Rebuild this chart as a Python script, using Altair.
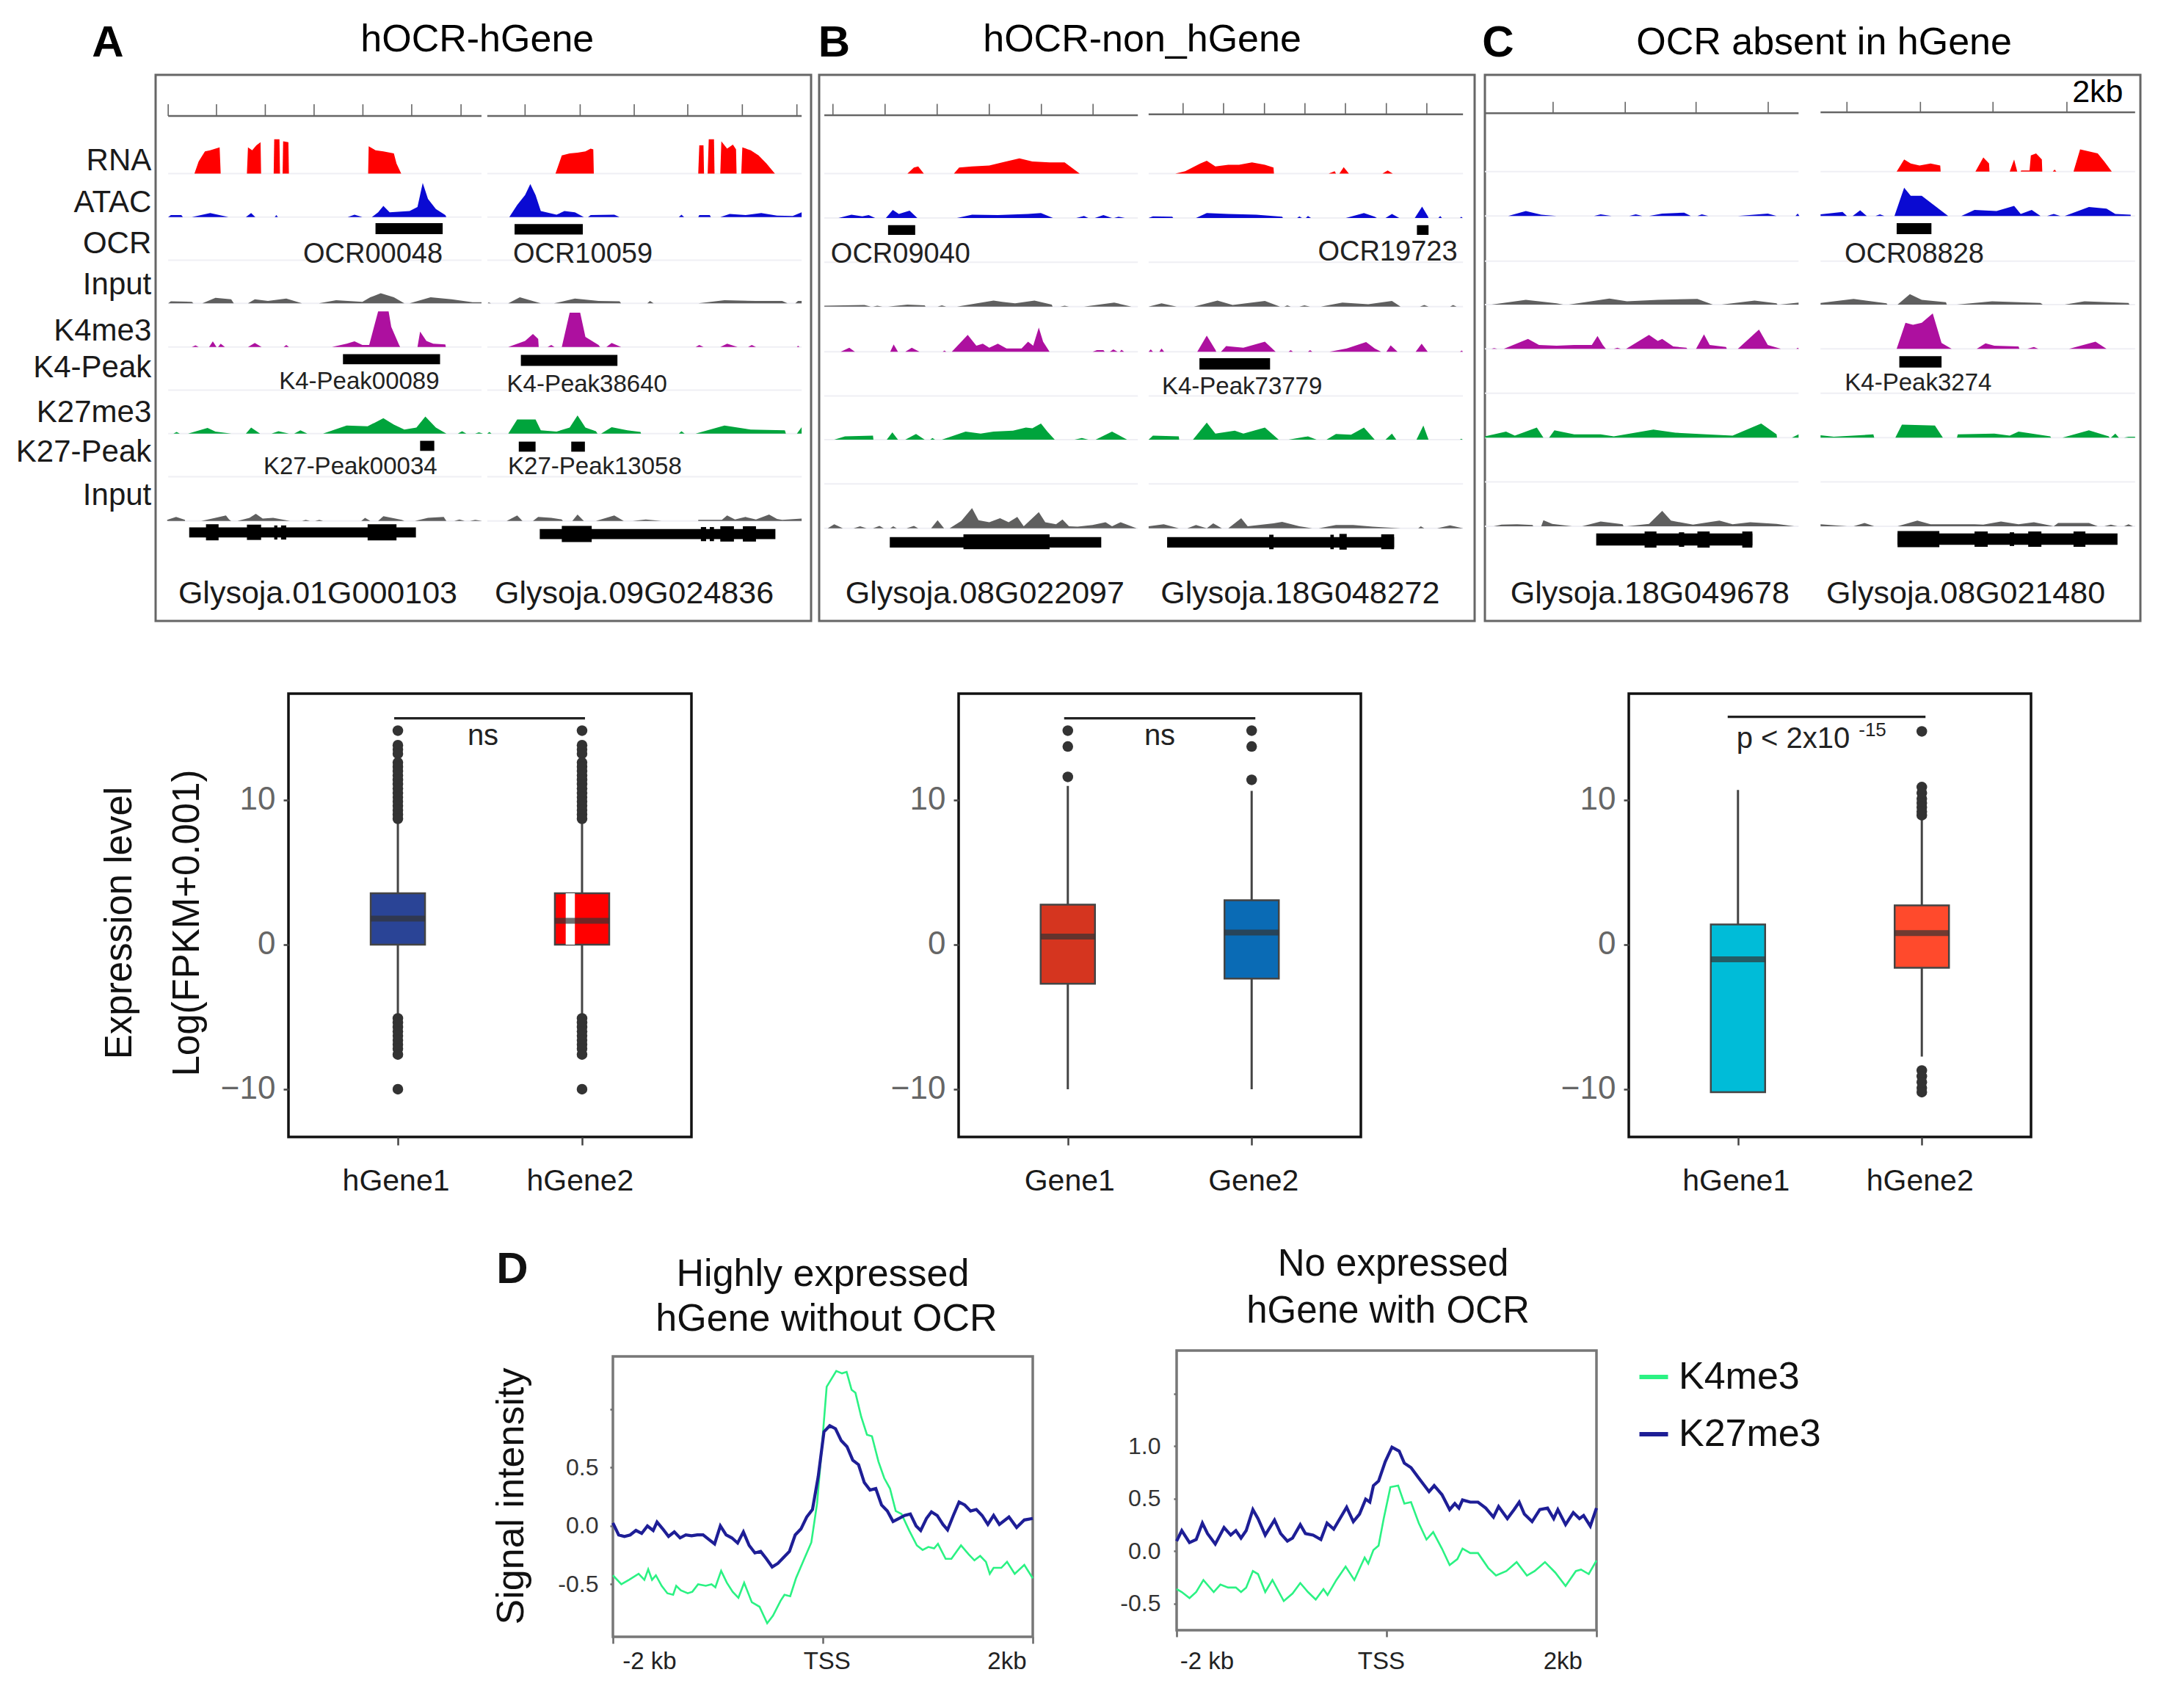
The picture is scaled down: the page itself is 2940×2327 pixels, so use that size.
import altair as alt
import pandas as pd

FONT = "Liberation Sans"
# ---------- genome browser panels: positions along the browser window, signal heights
TRACK_COLORS = {"RNA": "#FF0000", "ATAC": "#0A0AD2", "IN1": "#5F5F5F", "K4": "#AD109F", "K27": "#00A43C", "IN2": "#5F5F5F"}

A_BASE = {"RNA": 430, "ATAC": 538, "OCR": 645, "IN1": 752, "K4": 860, "K4P": 967, "K27": 1075, "K27P": 1182, "IN2": 1292}
B_BASE = {"RNA": 430, "ATAC": 540, "OCR": 650, "IN1": 760, "K4": 872, "K4P": 982, "K27": 1090, "K27P": 1200, "IN2": 1310}
C_BASE = {"RNA": 425, "ATAC": 535, "OCR": 647, "IN1": 755, "K4": 865, "K4P": 975, "K27": 1085, "K27P": 1195, "IN2": 1305}

A_SPANS = [[320, 917], [928, 1527]]
B_SPANS = [[37, 765], [790, 1520]]
C_SPANS = [[37, 750], [800, 1515]]

A_TRACKS = {
 "RNA": [[370,0,378,30,390,55,400,58,410,62,418,65,420,0],[470,0,472,65,480,58,488,70,496,78,497,0],[521,0,522,85,532,85,533,0],[538,0,539,80,549,78,550,0],[701,0,702,68,715,58,730,55,750,50,755,25,764,0],
         [1058,0,1070,45,1085,50,1100,52,1115,55,1125,62,1130,60,1131,0],[1330,0,1332,70,1340,70,1341,0],[1348,0,1350,85,1360,85,1361,0],[1372,0,1374,80,1385,62,1396,72,1402,60,1403,0],[1412,0,1414,65,1430,58,1445,45,1460,25,1476,0]],
 "ATAC": [[320,0,325,5,345,5,348,0],[365,0,400,10,435,0],[468,0,478,10,486,0],[523,0,526,5,529,0],[662,0,675,6,690,0],[708,0,720,12,730,28,742,12,780,15,795,25,805,85,815,45,830,20,848,5,850,0],
          [970,0,985,30,1000,55,1010,82,1020,55,1030,15,1060,6,1075,15,1095,12,1112,0],[1120,0,1125,5,1170,6,1180,0],[1293,0,1298,6,1303,0],[1330,0,1332,5,1352,5,1354,0],[1372,0,1390,8,1420,5,1450,10,1480,4,1510,3,1527,12]],
 "IN1": [[320,0,325,5,365,4,368,0],[385,0,410,14,440,10,445,0],[472,0,485,10,510,6,545,12,575,0],[607,0,640,8,690,4,705,15,725,25,750,15,770,0],[780,0,820,15,860,10,900,3,917,3],
         [930,3,935,0],[968,0,990,15,1030,0],[1055,0,1095,12,1140,6,1180,5,1183,0],[1233,0,1238,6,1245,0],[1330,0,1380,8,1440,6,1490,6,1500,0],[1515,0,1520,6,1527,6]],
 "K4": [[365,0,372,4,378,0],[398,0,405,14,412,0],[415,0,420,8,428,0],[472,0,485,10,498,0],[540,0,545,5,550,0],[632,0,660,8,675,14,690,5,703,5,720,88,740,88,745,50,760,5,762,0],[795,0,800,38,812,15,825,8,848,6,849,0],
        [968,0,1000,15,1015,32,1025,20,1026,0],[1043,0,1050,5,1056,0],[1070,0,1085,85,1105,85,1115,25,1140,5,1143,0],[1155,0,1165,10,1183,0],[1325,0,1332,5,1340,0],[1372,0,1385,8,1405,0],[1425,0,1432,5,1440,0],[1518,0,1520,3,1523,0]],
 "K27": [[330,0,336,4,342,0],[358,0,395,14,410,5,440,0],[468,0,478,15,495,0],[517,0,530,6,550,0],[560,0,572,8,585,0],[615,0,660,20,700,18,730,38,750,22,770,10,793,15,810,42,830,15,850,0],[872,0,880,6,888,0],[905,0,912,3,920,0],
         [928,0,932,4,936,0],[968,0,985,35,1020,35,1030,8,1060,5,1085,15,1100,45,1115,15,1135,6,1138,0],[1145,0,1165,16,1195,8,1220,4,1221,0],[1293,0,1298,6,1304,0],[1325,0,1380,20,1430,10,1495,8,1497,0],[1518,0,1527,16]],
 "IN2": [[318,3,335,10,352,3],[383,0,410,8,430,14,436,4,440,0],[452,0,475,8,487,18,500,6,520,8,552,0],[575,0,582,3,590,0],[600,0,608,3,615,0],[688,0,695,8,705,0],[720,0,730,12,765,3,770,0],[790,0,815,8,845,10,850,0],[865,0,875,4,885,0],[895,0,905,3,918,0],
         [965,0,985,14,995,0],[1015,0,1025,10,1050,8,1070,4,1072,0],[1090,0,1100,16,1112,0],[1135,0,1170,14,1188,0],[1205,0,1230,4,1260,0],[1330,3,1375,3,1385,14,1400,4,1420,10,1440,4,1465,16,1480,5,1490,3,1527,6]],
}
B_TRACKS = {
 "RNA": [[230,0,245,15,255,18,268,0],[338,0,350,15,380,18,420,20,450,28,490,38,520,30,560,28,595,28,630,0],
         [852,0,875,6,910,25,925,32,945,18,975,22,1000,22,1030,28,1060,22,1080,15,1081,0],[1208,0,1222,6,1225,0],[1233,0,1243,16,1255,0],[1333,0,1345,8,1357,0]],
 "ATAC": [[70,0,100,8,125,4,140,7,155,0],[180,0,196,20,210,10,235,18,253,0],[345,0,380,8,440,7,510,10,540,12,568,0],[622,0,640,5,650,0],[665,0,685,7,705,0],[710,0,720,3,735,0],
          [790,0,800,4,845,3,847,0],[900,0,925,12,975,10,1040,8,1100,3,1102,0],[1135,0,1140,4,1146,0],[1155,0,1160,5,1167,0],[1248,0,1290,12,1315,3,1320,0],[1340,0,1355,10,1372,0],[1408,0,1425,28,1438,5,1440,0],[1463,0,1467,5,1471,0],[1513,0,1516,3,1519,0]],
 "IN1": [[37,2,130,4,145,0],[150,0,160,2,172,0],[185,0,230,5,270,3,272,0],[300,0,310,3,320,0],[345,0,430,15,450,12,480,8,525,15,565,5,567,0],[585,0,595,2,605,0],[640,0,710,10,750,0],
         [790,0,820,8,855,0],[895,0,950,15,985,4,1060,14,1095,0],[1105,0,1112,3,1120,0],[1140,0,1152,3,1165,0],[1190,0,1240,10,1300,6,1355,14,1375,0],[1420,0,1430,4,1440,0],[1490,0,1497,4,1505,0]],
 "K4": [[75,0,95,10,108,0],[190,0,198,18,208,0],[225,0,240,10,258,0],[312,0,316,3,320,0],[333,0,370,42,390,15,405,20,420,10,440,20,460,8,495,8,510,25,522,15,535,60,545,25,560,0],[660,0,670,4,685,4,688,0],[700,0,708,6,718,0],[723,0,727,5,733,0],
        [790,0,795,6,800,0],[815,0,820,8,826,0],[903,0,925,40,945,5,947,0],[958,0,970,14,1010,10,1060,25,1085,0],[1115,0,1120,4,1125,0],[1160,0,1165,4,1170,0],[1210,0,1250,8,1295,24,1315,8,1330,0],[1342,0,1352,16,1368,0],[1410,0,1424,20,1438,0],[1513,0,1517,3,1520,0]],
 "K27": [[60,0,85,8,150,10,151,0],[182,0,195,18,208,0],[225,0,250,14,270,0],[283,0,288,4,294,0],[310,0,365,20,400,15,430,20,475,22,505,30,520,28,540,40,555,20,572,0],[618,0,635,4,650,0],[667,0,705,20,740,0],
         [790,0,800,10,860,8,861,0],[893,0,925,42,945,15,990,22,1010,15,1060,30,1092,0],[1115,0,1160,8,1180,0],[1203,0,1225,14,1260,12,1290,30,1315,0],[1340,0,1355,15,1365,0],[1412,0,1428,35,1440,0],[1513,0,1516,2,1519,0]],
 "IN2": [[45,0,60,10,80,0],[105,0,120,5,135,0],[150,0,165,6,175,0],[190,0,197,5,205,0],[228,0,245,6,255,0],[285,0,300,20,315,0],[328,0,355,18,380,50,395,20,420,15,445,25,465,15,485,28,500,5,515,20,535,40,550,15,575,10,590,22,605,5,625,4,660,8,690,15,705,5,725,15,762,0],
         [790,5,825,10,860,0],[880,0,900,8,925,0,940,12,960,0],[975,0,1005,25,1020,5,1080,12,1100,16,1140,5,1170,0],[1185,0,1225,8,1265,8,1310,4,1375,0],[1416,0,1422,5,1430,0],[1460,0,1490,7,1520,0]],
}
C_TRACKS = {
 "RNA": [[973,0,990,30,1005,20,1025,15,1050,20,1072,15,1073,0],[1152,0,1170,35,1183,20,1184,0],[1230,0,1240,30,1247,0],[1255,0,1256,3,1275,3,1278,40,1290,45,1303,30,1304,0],[1328,0,1332,5,1336,0],[1375,0,1390,55,1430,45,1445,25,1462,0]],
 "ATAC": [[90,0,130,12,165,3,200,0],[285,0,300,4,325,0],[365,0,380,4,395,0],[410,0,440,6,490,8,505,0],[520,0,530,4,545,0],[612,0,680,6,700,0],[743,0,748,6,752,0],
          [800,4,850,10,860,0],[873,0,890,14,905,0],[925,0,935,4,945,0],[968,0,990,70,1005,50,1030,50,1060,25,1090,0],[1120,0,1150,15,1200,12,1240,25,1255,5,1280,15,1300,0],[1315,0,1330,5,1345,0],[1355,0,1410,22,1450,18,1470,5,1505,3]],
 "IN1": [[52,0,130,12,200,3,215,0],[228,0,320,15,360,8,430,12,520,14,555,0],[575,0,650,10,700,3,702,0],[708,0,750,5],
         [800,4,875,14,950,3,952,0],[975,0,1003,26,1030,12,1085,6,1087,0],[1110,0,1190,8,1300,4,1305,0],[1355,0,1400,8,1500,4,1502,0]],
 "K4": [[52,0,58,2,65,0],[80,0,135,25,160,10,200,8,240,10,280,10,293,32,305,10,312,0],[330,0,338,3,346,0],[358,0,410,35,430,20,440,25,465,6,495,3,497,0],[517,0,535,36,548,10,585,5,587,0],[612,0,660,48,680,10,710,0],[745,0,748,3,751,0],
        [973,0,993,65,1010,60,1030,65,1055,88,1075,15,1098,0],[1155,0,1175,14,1195,8,1250,6,1252,0],[1270,0,1285,5,1295,0],[1365,0,1425,18,1450,0]],
 "K27": [[37,3,85,15,105,5,155,25,170,0],[183,0,195,18,240,8,300,8,330,3,420,20,470,12,540,8,600,5,665,35,700,8,701,0],[735,0,750,8],
         [800,6,830,2,920,8,922,0],[970,0,985,32,1060,30,1078,0],[1110,0,1112,8,1195,10,1230,5,1250,15,1322,3,1324,0],[1350,0,1410,18,1455,3,1457,0],[1460,0,1470,10,1478,0],[1490,0,1500,2,1515,2]],
 "IN2": [[57,0,75,4,110,5,145,3,147,0],[165,0,170,15,190,6,235,0],[258,0,300,12,350,5,352,0],[360,0,410,6,440,38,460,14,510,4,570,14,600,5,640,10,700,6,740,0],
         [800,5,860,0],[875,0,900,8,922,0],[975,0,1020,14,1050,5,1150,5,1170,4,1210,12,1250,5,1285,10,1330,0,1340,8,1410,8,1430,0],[1445,0,1460,4,1475,0],[1490,0,1500,5,1510,0]],
}
# black peak / gene blocks: start, end, top, bottom
A_BLOCKS = [[715,843,553,580],[980,1110,555,581],[653,838,878,903],[992,1176,880,907],[800,827,1093,1118],[988,1020,1095,1120],[1088,1114,1095,1120],
            [360,792,1308,1333],[392,416,1300,1340],[470,497,1301,1339],[522,528,1303,1338],[535,545,1303,1338],[700,755,1300,1340],
            [1028,1477,1312,1337],[1070,1127,1304,1344],[1335,1345,1307,1342],[1352,1360,1307,1342],[1372,1398,1305,1343],[1415,1440,1305,1343]]
B_BLOCKS = [[185,248,558,582],[1413,1440,558,582],[908,1072,888,916],
            [189,680,1332,1358],[360,560,1325,1362],[833,1360,1332,1358],[1070,1080,1326,1362],[1212,1220,1326,1362],[1233,1250,1324,1363],[1330,1360,1325,1362]]
C_BLOCKS = [[973,1052,553,580],[979,1075,883,911],
            [290,645,1323,1353],[400,427,1318,1358],[478,490,1320,1356],[520,548,1318,1358],[622,645,1318,1358],
            [975,1475,1323,1351],[975,1070,1317,1357],[1150,1180,1318,1356],[1230,1240,1320,1354],[1272,1302,1318,1356],[1375,1402,1318,1356]]
# ruler: start, end, level, tick top, ticks
A_RULERS = [[320,917,287,258,[320,412,505,598,691,784,878]],[928,1527,287,258,[1000,1105,1208,1310,1414,1518]]]
B_RULERS = [[37,765,285,257,[57,178,299,420,541,661]],[790,1520,283,255,[870,964,1059,1153,1247,1342,1436]]]
C_RULERS = [[37,750,280,252,[192,356,517,681]],[800,1515,278,252,[860,1027,1192,1360]]]

TRACK_LABELS = [("RNA",398),("ATAC",501),("OCR",603),("Input",705),("K4me3",820),("K4-Peak",911),("K27me3",1023),("K27-Peak",1121),("Input",1228)]

A_NAMES38 = [(710,631,"OCR00048"),(1110,631,"OCR10059")]
A_NAMES33 = [(684,947,"K4-Peak00089"),(1118,954,"K4-Peak38640"),(667,1157,"K27-Peak00034"),(1133,1157,"K27-Peak13058")]
A_GENES = [(605,1472,"Glysoja.01G000103"),(1208,1472,"Glysoja.09G024836")]
B_NAMES38 = [(214,631,"OCR09040"),(1345,625,"OCR19723")]
B_NAMES33 = [(1007,959,"K4-Peak73779")]
B_GENES = [(410,1472,"Glysoja.08G022097"),(1142,1472,"Glysoja.18G048272")]
C_NAMES38 = [(1013,631,"OCR08828")]
C_NAMES33 = [(1022,950,"K4-Peak3274")]
C_GENES = [(412,1472,"Glysoja.18G049678"),(1130,1472,"Glysoja.08G021480")]

# ---------- box plots
BOX1 = dict(cats=["hGene1","hGene2"], lo=[-5.0,-5.0], q1=[0.0,0.0], med=[1.8,1.65], q3=[3.55,3.55], hi=[8.5,8.5], fill=["#2A4496","#FF0000"])
BOX2 = dict(cats=["Gene1","Gene2"], lo=[-10,-10], q1=[-2.7,-2.35], med=[0.56,0.84], q3=[2.77,3.07], hi=[10.98,10.63], fill=["#D5351F","#0A6BB5"])
BOX3 = dict(cats=["hGene1","hGene2"], lo=[-10.2,-7.74], q1=[-10.2,-1.6], med=[-1.02,0.8], q3=[1.4,2.72], hi=[10.7,8.77], fill=["#00BCD8","#FF4A2C"])
DENSE_UP = [14.8,13.8,13.5,13.2,12.6,12.3,12.0,11.7,11.4,11.1,10.8,10.5,10.2,9.9,9.6,9.3,9.0,8.7]
DENSE_LOW = [-5.1,-5.4,-5.7,-6.0,-6.3,-6.6,-6.9,-7.2,-7.6,-10.0]
OUT1 = [("hGene1",v) for v in DENSE_UP+DENSE_LOW]+[("hGene2",v) for v in DENSE_UP+DENSE_LOW]
OUT2 = [("Gene1",14.8),("Gene1",13.7),("Gene1",11.6),("Gene2",14.8),("Gene2",13.7),("Gene2",11.4)]
OUT3 = [("hGene2",v) for v in [14.75,10.9,10.5,10.1,9.8,9.5,9.2,8.95,-8.7,-9.1,-9.5,-9.9,-10.2]]

# ---------- profile plots (pixel reading, signal reading)
D1_K27 = [(353,975),(368,1015),(383,1020),(398,1015),(413,1000),(428,1010),(443,985),(458,1000),(468,972),(483,995),(498,1020),(513,1005),(528,1025),(543,1015),(558,1018),(573,1015),(588,1015),(603,1030),(618,1045),(633,985),(648,1015),(663,1025),(678,1042),(693,1005),(708,1050),(723,1075),(738,1070),(753,1095),(768,1122),(783,1110),(798,1090),(813,1070),(828,1015),(843,995),(858,955),(873,930),(888,820),(903,670),(918,650),(933,660),(948,700),(963,720),(978,765),(993,780),(1008,840),(1023,865),(1038,860),(1053,915),(1068,935),(1083,970),(1098,960),(1113,950),(1128,945),(1143,985),(1155,1000),(1170,960),(1183,938),(1198,950),(1213,980),(1225,998),(1240,950),(1255,905),(1270,915),(1285,935),(1300,930),(1315,950),(1330,980),(1345,950),(1360,980),(1385,955),(1405,990),(1425,965),(1447,960)]
D1_K4 = [(353,1150),(375,1180),(395,1165),(420,1145),(435,1165),(445,1130),(455,1165),(465,1150),(480,1185),(495,1210),(510,1215),(518,1185),(530,1200),(548,1210),(560,1205),(575,1180),(595,1185),(610,1180),(620,1190),(635,1135),(650,1175),(665,1205),(680,1225),(695,1175),(715,1240),(735,1255),(755,1310),(770,1285),(790,1235),(800,1215),(815,1220),(830,1160),(850,1100),(870,1040),(885,910),(895,760),(910,520),(935,467),(950,475),(962,470),(975,530),(985,540),(1000,620),(1015,680),(1028,685),(1045,770),(1060,825),(1075,860),(1090,935),(1105,945),(1125,1000),(1145,1050),(1160,1065),(1175,1055),(1190,1060),(1200,1045),(1220,1095),(1235,1095),(1260,1050),(1280,1080),(1295,1100),(1310,1085),(1325,1105),(1335,1145),(1345,1125),(1365,1125),(1380,1105),(1400,1145),(1425,1115),(1447,1160)]
D2_K27 = [(190,1035),(200,1000),(215,1040),(228,1030),(240,975),(250,1010),(265,1045),(282,990),(295,1015),(305,1000),(315,1025),(325,1000),(338,930),(348,960),(362,1015),(380,965),(392,1010),(405,1035),(415,1025),(430,980),(440,1010),(455,1015),(470,1030),(482,975),(495,995),(520,922),(533,970),(545,945),(557,895),(565,905),(572,850),(582,835),(595,770),(608,722),(622,735),(632,775),(645,790),(660,825),(680,870),(690,850),(705,880),(720,930),(730,910),(738,925),(745,898),(760,905),(775,905),(790,925),(805,955),(815,920),(832,960),(845,930),(855,905),(865,945),(880,970),(895,930),(910,925),(922,960),(930,930),(945,980),(960,940),(972,960),(980,950),(993,985),(1005,925)]
D2_K4 = [(190,1195),(200,1205),(215,1225),(228,1205),(242,1165),(262,1205),(275,1180),(290,1190),(305,1190),(315,1205),(325,1190),(338,1135),(348,1145),(362,1205),(376,1165),(398,1235),(415,1210),(430,1175),(445,1205),(460,1230),(475,1195),(483,1215),(500,1165),(518,1120),(535,1165),(555,1090),(562,1110),(572,1065),(582,1050),(592,960),(605,855),(620,850),(632,910),(645,905),(660,975),(675,1030),(688,1005),(705,1060),(720,1115),(735,1095),(745,1060),(760,1075),(775,1075),(795,1125),(810,1150),(830,1135),(850,1105),(870,1150),(885,1135),(905,1105),(925,1140),(945,1185),(965,1135),(975,1130),(990,1145),(1005,1100)]
SERIES = ["K4me3", "K27me3"]
SERIES_COLORS = ["#2BF283", "#1E1E96"]


def spacer(w, h):
    return alt.Chart(pd.DataFrame({"a": [0]})).mark_point(opacity=0, size=1).encode(
        x=alt.value(1), y=alt.value(1)
    ).properties(width=w, height=h, view=alt.ViewBackground(stroke="transparent"))


def browser_panel(base, spans, tracks, blocks, rulers, names38, names33, genes, extras, xdom):
    xs = alt.Scale(domain=xdom, nice=False, zero=False)
    ys = alt.Scale(domain=[1540, 185], nice=False, zero=False)
    X = alt.X("x:Q", scale=xs, axis=None)
    Y = alt.Y("y:Q", scale=ys, axis=None)
    layers = []
    # faint track baselines
    rows = [{"x": s[0], "x2": s[1], "y": b} for b in base.values() for s in spans]
    layers.append(alt.Chart(pd.DataFrame(rows)).mark_rule(color="#EFEFF4", strokeWidth=2).encode(x=X, x2="x2:Q", y=Y))
    # signal areas, one layer per track
    for name, segs in tracks.items():
        b = base[name]
        rows = []
        for i, seg in enumerate(segs):
            for j in range(0, len(seg), 2):
                rows.append({"seg": i, "x": seg[j], "y": b - seg[j + 1], "y2": b})
        layers.append(alt.Chart(pd.DataFrame(rows)).mark_area(interpolate="linear", color=TRACK_COLORS[name], orient="vertical").encode(
            x=X, y=Y, y2="y2:Q", detail="seg:N"))
    # blocks
    rows = [{"x": a, "x2": b, "y": c, "y2": d} for a, b, c, d in blocks]
    layers.append(alt.Chart(pd.DataFrame(rows)).mark_rect(color="black").encode(x=X, x2="x2:Q", y=Y, y2="y2:Q"))
    # rulers
    rows = [{"x": r[0], "x2": r[1], "y": r[2]} for r in rulers]
    layers.append(alt.Chart(pd.DataFrame(rows)).mark_rule(color="#666666", strokeWidth=2.5).encode(x=X, x2="x2:Q", y=Y))
    rows = [{"x": t, "y": r[3], "y2": r[2]} for r in rulers for t in r[4]]
    layers.append(alt.Chart(pd.DataFrame(rows)).mark_rule(color="#666666", strokeWidth=1.6).encode(x=X, y=Y, y2="y2:Q"))

    def text_layer(items, size, align="center", weight="normal", color="#1A1A1A"):
        df = pd.DataFrame(items, columns=["x", "y", "t"])
        return alt.Chart(df).mark_text(fontSize=size, align=align, baseline="middle", fontWeight=weight, color=color, font=FONT).encode(x=X, y=Y, text="t:N")
    layers.append(text_layer(names38, 38, color="#222222"))
    layers.append(text_layer(names33, 33, color="#222222"))
    layers.append(text_layer(genes, 43))
    for items, size, weight in extras:
        layers.append(text_layer(items, size, weight=weight, color="black"))
    return layers, X, Y, text_layer


def frame_layers(ch):
    return ch.properties(width=893, height=744, view=alt.ViewBackground(stroke="#666666", strokeWidth=3))


la, XA, YA, tlA = browser_panel(A_BASE, A_SPANS, A_TRACKS, A_BLOCKS, A_RULERS, A_NAMES38, A_NAMES33, A_GENES,
                                [([(909, 97, "hOCR-hGene")], 52, "normal"), ([(205, 107, "A")], 60, "bold")], [296, 1545])
la.append(tlA([(288, y, t) for t, y in TRACK_LABELS], 42, align="right", color="#1A1A1A"))
panelA = frame_layers(alt.layer(*la))

lb, XB, YB, tlB = browser_panel(B_BASE, B_SPANS, B_TRACKS, B_BLOCKS, B_RULERS, B_NAMES38, B_NAMES33, B_GENES,
                                [([(775, 97, "hOCR-non_hGene")], 52, "normal"), ([(60, 107, "B")], 60, "bold")], [25, 1547])
panelB = frame_layers(alt.layer(*lb))

lc, XC, YC, tlC = browser_panel(C_BASE, C_SPANS, C_TRACKS, C_BLOCKS, C_RULERS, C_NAMES38, C_NAMES33, C_GENES,
                                [([(808, 104, "OCR absent in hGene")], 52, "normal"), ([(67, 107, "C")], 60, "bold"), ([(1430, 228, "2kb")], 43, "normal")], [37, 1527])
panelC = frame_layers(alt.layer(*lc))


def box_panel(box, outliers, width, title=None, label_dx=-3, extra=None, white=False, sig_off=(0, 0), sig_y=15.65):
    df = pd.DataFrame(box)
    xscale = alt.Scale(type="point", domain=box["cats"], padding=0.594)
    yscale = alt.Scale(domain=[-13.3, 17.36], nice=False, zero=False)
    yaxis = alt.Axis(values=[-10, 0, 10], grid=False, domain=False, labelFontSize=44, labelColor="#666666", tickColor="#444444",
                     tickSize=7, tickWidth=2.5, labelPadding=11, title=title, titleFontSize=51, titleFontWeight="normal",
                     titleColor="#111111", titleLineHeight=92, titleX=-230, titleY=312, titleAngle=270, titleBaseline="middle", titleAlign="center")
    xaxis = alt.Axis(title=None, grid=False, domain=False, labelFontSize=41, labelColor="#1A1A1A", tickColor="#444444",
                     tickSize=11, tickWidth=2.5, labelAngle=0, labelPadding=29, labelOffset=label_dx)
    X = alt.X("cats:N", scale=xscale, axis=xaxis, sort=None)
    base = alt.Chart(df)
    whisk = base.mark_rule(color="#444444", strokeWidth=3).encode(x=X, y=alt.Y("lo:Q", scale=yscale, axis=yaxis), y2="hi:Q")
    bar = base.mark_bar(size=74, stroke="#444444", strokeWidth=2.5).encode(x=X, y=alt.Y("q1:Q", scale=yscale), y2="q3:Q", color=alt.Color("fill:N", scale=None))
    layers = [whisk, bar]
    if white:
        wdf = pd.DataFrame({"cats": [box["cats"][1]], "a": [box["q1"][1]], "b": [box["q3"][1]]})
        layers.append(alt.Chart(wdf).mark_bar(size=12.5, color="white", xOffset=-16).encode(x=X, y=alt.Y("a:Q", scale=yscale), y2="b:Q"))
    med = base.mark_tick(size=74, thickness=8, color="#333333").encode(x=X, y=alt.Y("med:Q", scale=yscale))
    layers.append(med)
    odf = pd.DataFrame(outliers, columns=["cats", "v"])
    layers.append(alt.Chart(odf).mark_circle(size=210, color="#333333", opacity=1).encode(x=X, y=alt.Y("v:Q", scale=yscale)))
    sdf = pd.DataFrame({"cats": [box["cats"][0]], "c2": [box["cats"][1]], "v": [sig_y]})
    layers.append(alt.Chart(sdf).mark_rule(color="#222222", strokeWidth=3.2, xOffset=sig_off[0], x2Offset=sig_off[1]).encode(x=X, x2="c2:N", y=alt.Y("v:Q", scale=yscale)))
    for item in (extra or []):
        tdf = pd.DataFrame({"t": [item["t"]], "v": [item["v"]]})
        layers.append(alt.Chart(tdf).mark_text(fontSize=item["size"], color="#222222", font=FONT, baseline="middle", align="center").encode(
            x=alt.value(item["px"]), y=alt.Y("v:Q", scale=yscale), text="t:N"))
    return alt.layer(*layers).properties(width=width, height=604, view=alt.ViewBackground(stroke="#111111", strokeWidth=3.5))


box_a = box_panel(BOX1, OUT1, 549, title=["Expression level", "Log(FPKM+0.001)"], white=True, sig_off=(-5, 4),
                  extra=[{"t": "ns", "v": 14.4, "size": 40, "px": 265}])
box_b = box_panel(BOX2, OUT2, 548, label_dx=2, sig_off=(-5, 5), extra=[{"t": "ns", "v": 14.4, "size": 40, "px": 274}])
box_c = box_panel(BOX3, OUT3, 548, label_dx=-3, sig_off=(-14, 5), sig_y=15.75,
                  extra=[{"t": "p <  2x10", "v": 14.22, "size": 40, "px": 224}, {"t": "-15", "v": 14.8, "size": 26, "px": 332}])


def profile_panel(k4, k27, x0, x1, y0, yper, ydom, ticks, hide, labels, spec, title=None, legend=False):
    rows = []
    for s, pts, w in (("K4me3", k4, 2.6), ("K27me3", k27, 4.2)):
        for i, (px, py) in enumerate(pts):
            rows.append({"s": s, "kb": (px - x0) / (x1 - x0) * 4 - 2, "v": (y0 - py) / yper, "w": w, "o": i})
    df = pd.DataFrame(rows)
    h = spec["h"]
    inset = spec.get("inset", 0)
    xs = alt.Scale(domain=[-2, 2], nice=False, zero=False)
    ys = alt.Scale(domain=ydom, nice=False, zero=False, range=[h, inset])
    xaxis = alt.Axis(values=[-2, 0, 2], labels=False, title=None, grid=False, domain=False, tickSize=9, tickColor="#666666", tickWidth=2.5)
    yaxis = alt.Axis(values=ticks, grid=False, domain=False, tickSize=4, tickColor="#666666", tickWidth=2.5, labelFontSize=32, labelColor="#333333",
                     labelPadding=spec["lp"], labelExpr=f"datum.value == {hide} ? '' : replace(format(datum.value, '.1f'), '\u2212', '-')",
                     title=title, titleFontSize=52, titleFontWeight="normal", titleColor="#111111", titleX=-139, titleY=190 + inset, titleAngle=270,
                     titleBaseline="middle", titleAlign="center")
    leg = None
    if legend:
        leg = alt.Legend(orient="none", legendX=624, legendY=10, title=None, symbolType="stroke", symbolSize=1521, symbolStrokeWidth=6,
                         labelFontSize=52, labelColor="#111111", rowPadding=26, labelOffset=8, labelFont=FONT, labelLimit=400)
    color = alt.Color("s:N", scale=alt.Scale(domain=SERIES, range=SERIES_COLORS), legend=leg)
    fdf = pd.DataFrame({"a": [-2], "b": [2], "c": [ydom[0]], "d": [ydom[1]]})
    frame = alt.Chart(fdf).mark_rect(fill="transparent", stroke="#777777", strokeWidth=3.5).encode(
        x=alt.X("a:Q", scale=xs, axis=xaxis), x2="b:Q", y=alt.Y("c:Q", scale=ys, axis=yaxis), y2="d:Q")
    line = alt.Chart(df).mark_line(interpolate="linear").encode(
        x=alt.X("kb:Q", scale=xs), y=alt.Y("v:Q", scale=ys), color=color,
        strokeWidth=alt.StrokeWidth("w:Q", scale=None), order="o:Q", detail="s:N")
    ldf = pd.DataFrame(labels, columns=["kb", "t"])
    lab = alt.Chart(ldf).mark_text(fontSize=33, color="#222222", font=FONT, baseline="middle").encode(
        x=alt.X("kb:Q", scale=xs), y=alt.value(spec["labely"]), text="t:N")
    layers = [frame, line, lab]
    for px, py, t, size, weight in spec["texts"]:
        layers.append(alt.Chart(pd.DataFrame({"t": [t]})).mark_text(fontSize=size, fontWeight=weight, color="#111111", font=FONT, baseline="middle").encode(
            x=alt.value(px), y=alt.value(py), text="t:N"))
    return alt.layer(*layers).properties(width=572, height=h, view=alt.ViewBackground(stroke="transparent"))


prof_a = profile_panel(D1_K4, D1_K27, 353, 1447, 985, 390, [-0.95, 1.453], [-0.5, 0, 0.5, 1.0], 1.0,
                       [(-1.65, "-2 kb"), (0.04, "TSS"), (1.755, "2kb")],
                       {"labely": 424, "h": 390, "inset": 8, "lp": 16, "texts": [(286, -104, "Highly expressed", 52, "normal"), (291, -43, "hGene without OCR", 52, "normal"), (-137, -110, "D", 60, "bold")]},
                       title="Signal intensity")
prof_b = profile_panel(D2_K4, D2_K27, 190, 1005, 1068, 350, [-0.755, 1.91], [-0.5, 0, 0.5, 1.0, 1.5], 1.5,
                       [(-1.71, "-2 kb"), (-0.05, "TSS"), (1.68, "2kb")],
                       {"labely": 424, "h": 381, "lp": 18, "texts": [(295, -117, "No expressed", 51, "normal"), (288, -53, "hGene with OCR", 51, "normal")]},
                       legend=True)

row1 = alt.hconcat(spacer(203, 744), panelA, spacer(11, 744), panelB, spacer(14, 744), panelC, spacing=0, bounds="flush")
row2 = alt.hconcat(spacer(384, 604), box_a, spacer(364, 604), box_b, spacer(365, 604), box_c, spacing=0, bounds="flush")
row3 = alt.hconcat(spacer(826, 390), prof_a, spacer(196, 390), prof_b, spacing=0, bounds="flush").resolve_scale(color="independent")

chart = alt.vconcat(spacer(10, 16), row1, spacer(10, 93), row2, spacer(10, 63), row3, spacing=0, padding=0).resolve_scale(color="independent").configure(font=FONT)
chart.save("out.html", embed_options={"renderer": "svg", "actions": False})
